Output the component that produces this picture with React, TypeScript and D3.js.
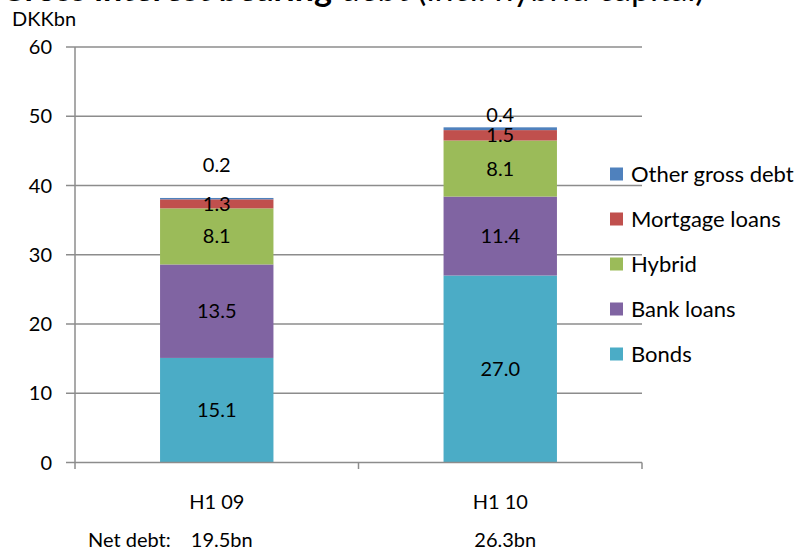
import React from "react";
import * as d3 from "d3";

const categories = ["H1 09", "H1 10"];
const netDebt = ["19.5bn", "26.3bn"];
const seriesNames = ["Bonds", "Bank loans", "Hybrid", "Mortgage loans", "Other gross debt"];
const bonds = [15.1, 27.0];
const bankLoans = [13.5, 11.4];
const hybrid = [8.1, 8.1];
const mortgageLoans = [1.3, 1.5];
const otherGrossDebt = [0.2, 0.4];
const seriesColors = ["#4BACC6", "#8064A2", "#9BBB59", "#C0504D", "#4F81BD"];
const yTicks = [0, 10, 20, 30, 40, 50, 60];

const W = 803;
const H = 550;
const FONT = "Lato, 'Open Sans', sans-serif";

export default function App() {
  const seriesValues = [bonds, bankLoans, hybrid, mortgageLoans, otherGrossDebt];
  const rows = categories.map((c, i) => {
    const r: any = { cat: c };
    seriesNames.forEach((s, k) => (r[s] = seriesValues[k][i]));
    return r;
  });
  const stack = d3.stack<any>().keys(seriesNames)(rows);

  const x = d3.scaleBand<string>().domain(categories).range([75, 642]).paddingInner(0.6).paddingOuter(0.3);
  const xStep = d3.scaleBand<string>().domain(categories).range([75, 642]);
  const y = d3.scaleLinear().domain([0, 60]).range([462.5, 47]);

  const topOffsets = [33, 12];
  const gridColor = "#8c8c8c";

  return (
    <svg width={W} height={H} style={{ position: "absolute", left: 0, top: 0, background: "#fff" }} fontFamily={FONT}>
      <text x={0} y={1} fontSize={34} fill="#000">
        <tspan fontWeight="bold">Gross interest bearing</tspan> debt (incl. hybrid capital)
      </text>
      <text x={12} y={26} fontSize={20} fill="#000">DKKbn</text>
      {yTicks.map((t) => (
        <g key={t}>
          {t > 0 && <line x1={75} x2={642} y1={y(t)} y2={y(t)} stroke={gridColor} strokeWidth={1.5} />}
          <line x1={66} x2={75} y1={y(t)} y2={y(t)} stroke={gridColor} strokeWidth={1.5} />
          <text x={52} y={y(t)} dy="0.35em" textAnchor="end" fontSize={20}>{t}</text>
        </g>
      ))}
      {stack.map((layer, k) => (
        <g key={layer.key} fill={seriesColors[k]}>
          {layer.map((d, i) => (
            <rect key={i} x={x(categories[i])} width={x.bandwidth()} y={y(d[1])} height={y(d[0]) - y(d[1])} />
          ))}
        </g>
      ))}
      <line x1={75} x2={75} y1={47} y2={462.5} stroke={gridColor} strokeWidth={1.5} />
      <line x1={75} x2={642} y1={462.5} y2={462.5} stroke={gridColor} strokeWidth={1.5} />
      {[...categories.map((c) => xStep(c) as number), 642].map((v, i) => (
        <line key={i} x1={v} x2={v} y1={462.5} y2={469} stroke={gridColor} strokeWidth={1.5} />
      ))}
      {stack.map((layer, k) =>
        layer.map((d, i) => {
          const cx = (x(categories[i]) as number) + x.bandwidth() / 2;
          const last = k === stack.length - 1;
          const cy = last ? y(d[1]) - topOffsets[i] : (y(d[0]) + y(d[1])) / 2;
          return (
            <text key={`${k}-${i}`} x={cx} y={cy} dy="0.35em" textAnchor="middle" fontSize={20}>
              {(d[1] - d[0]).toFixed(1)}
            </text>
          );
        })
      )}
      {categories.map((c, i) => {
        const cx = (x(c) as number) + x.bandwidth() / 2;
        return (
          <g key={c}>
            <text x={cx} y={502} dy="0.35em" textAnchor="middle" fontSize={20}>{c}</text>
            <text x={cx + 5} y={540} dy="0.35em" textAnchor="middle" fontSize={20}>{netDebt[i]}</text>
          </g>
        );
      })}
      <text x={88} y={540} dy="0.35em" fontSize={20}>Net debt:</text>
      {seriesNames.slice().reverse().map((s, j) => {
        const k = seriesNames.length - 1 - j;
        const cy = 174 + j * 45;
        return (
          <g key={s}>
            <rect x={610} y={cy - 6.5} width={13} height={13} fill={seriesColors[k]} />
            <text x={631} y={cy} dy="0.35em" fontSize={22}>{s}</text>
          </g>
        );
      })}
    </svg>
  );
}
